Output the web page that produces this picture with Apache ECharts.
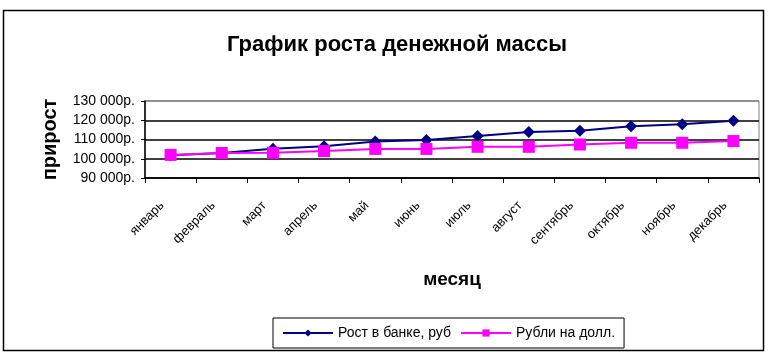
<!DOCTYPE html>
<html>
<head>
<meta charset="utf-8">
<script src="https://cdn.jsdelivr.net/npm/echarts@6/dist/echarts.min.js"></script>
<style>
  html, body { margin: 0; padding: 0; background: #fff; }
  #chart { width: 768px; height: 352px; }
</style>
</head>
<body>
<div id="chart"></div>
<script>
var months = ["январь", "февраль", "март", "апрель", "май", "июнь",
  "июль", "август", "сентябрь", "октябрь", "ноябрь", "декабрь"];
var bankGrowth = [101800, 103000, 105200, 106500, 108900, 109700,
  111800, 113900, 114600, 116900, 117900, 119700];
var rubToUsd = [102000, 103000, 103100, 104000, 105100, 105100,
  106200, 106200, 107400, 108300, 108300, 109200];

var chartDom = document.getElementById("chart");
var myChart = echarts.init(chartDom);
var font = "'Liberation Sans', Arial, sans-serif";

// 130000 -> "130 000р."
function rub(v) {
  var s = String(v);
  return s.slice(0, s.length - 3) + " " + s.slice(s.length - 3) + "р.";
}

var option = {
  animation: false,
  textStyle: { fontFamily: font, color: "#000" },
  graphic: [
    {
      type: "rect",
      shape: { x: 3.5, y: 10.5, width: 760, height: 340 },
      style: { fill: "none", stroke: "#000", lineWidth: 1.5 },
      silent: true
    }
  ],
  title: {
    text: "График роста денежной массы",
    left: 392,
    textAlign: "center",
    top: 29,
    textStyle: { fontFamily: font, fontSize: 22, fontWeight: "bold", color: "#000" }
  },
  legend: {
    left: 273,
    top: 318,
    padding: [8, 9, 8, 9],
    borderColor: "#000",
    borderWidth: 1,
    itemWidth: 50,
    itemHeight: 9,
    itemGap: 9,
    textStyle: { fontFamily: font, fontSize: 14, color: "#000" },
    data: ["Рост в банке, руб", "Рубли на долл."]
  },
  grid: {
    left: 145,
    right: 9,
    top: 101,
    bottom: 174,
    show: true,
    borderColor: "#808080",
    borderWidth: 1
  },
  xAxis: {
    type: "category",
    data: months,
    boundaryGap: true,
    name: "месяц",
    nameLocation: "middle",
    nameGap: 92,
    nameTextStyle: { fontFamily: font, fontSize: 19, fontWeight: "bold", color: "#000" },
    axisLine: { lineStyle: { color: "#000", width: 1.5 } },
    axisTick: { show: true, length: 5, lineStyle: { color: "#000" } },
    axisLabel: {
      rotate: 45, margin: 17, padding: [0, 12, 0, 0],
      fontSize: 13, color: "#000", fontFamily: font, interval: 0
    }
  },
  yAxis: {
    type: "value",
    min: 90000,
    max: 130000,
    interval: 10000,
    name: "прирост",
    nameLocation: "middle",
    nameGap: 85,
    nameTextStyle: { fontFamily: font, fontSize: 20, fontWeight: "bold", color: "#000" },
    axisLine: { show: true, lineStyle: { color: "#000", width: 1.5 } },
    axisTick: { show: true, length: 4, lineStyle: { color: "#000" } },
    axisLabel: { formatter: rub, fontSize: 14, color: "#000", fontFamily: font, margin: 10 },
    splitLine: { show: true, lineStyle: { color: ["#000", "#000", "#000", "#000", "#808080"], width: 1.5 } }
  },
  series: [
    {
      name: "Рост в банке, руб",
      type: "line",
      data: bankGrowth,
      symbol: "diamond",
      symbolSize: 12,
      itemStyle: { color: "#000080" },
      lineStyle: { color: "#000080", width: 2 },
      z: 3
    },
    {
      name: "Рубли на долл.",
      type: "line",
      data: rubToUsd,
      symbol: "rect",
      symbolSize: 12,
      itemStyle: { color: "#ff00ff" },
      lineStyle: { color: "#ff00ff", width: 2 },
      z: 4
    }
  ]
};

option && myChart.setOption(option);
</script>
</body>
</html>
